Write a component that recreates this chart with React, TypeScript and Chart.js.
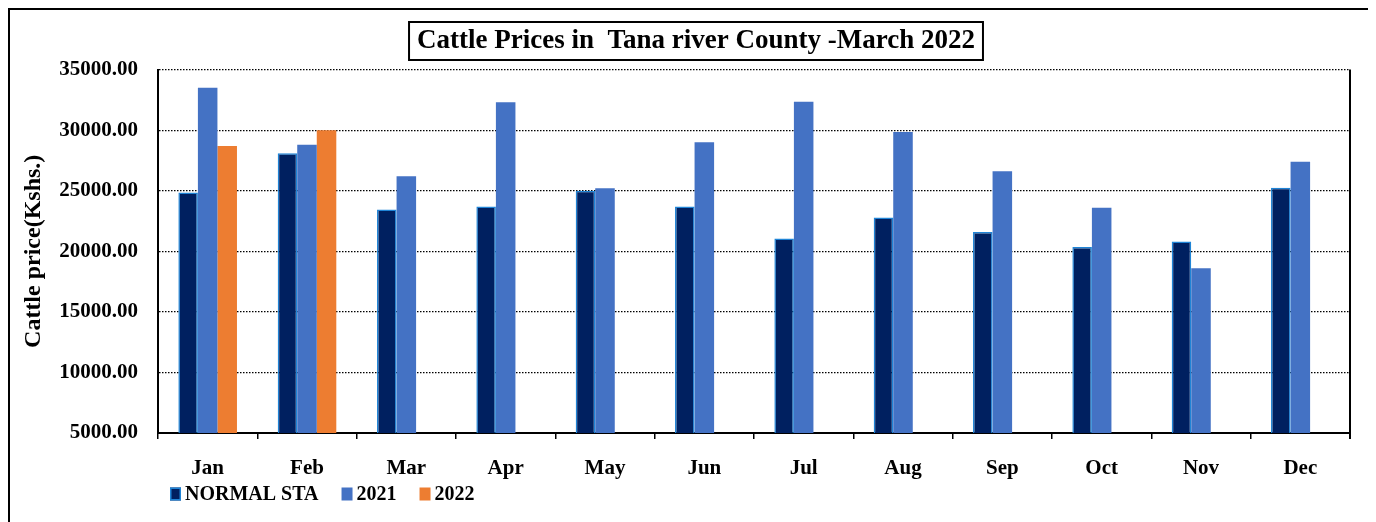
import React, { useEffect, useRef } from "react";
import { Chart, registerables } from "chart.js";

Chart.register(...registerables);

const months = ["Jan", "Feb", "Mar", "Apr", "May", "Jun", "Jul", "Aug", "Sep", "Oct", "Nov", "Dec"];
const normalSTA = [24850, 28100, 23450, 23700, 25000, 23700, 21050, 22800, 21600, 20350, 20800, 25250];
const prices2021 = [33500, 28800, 26200, 32300, 25200, 29000, 32350, 29850, 26600, 23600, 18600, 27400];
const prices2022 = [28700, 30000, null, null, null, null, null, null, null, null, null, null];
const yTicks = [5000, 10000, 15000, 20000, 25000, 30000, 35000];

const titleText = "Cattle Prices in  Tana river County -March 2022";
const FONT = "'Liberation Serif', 'Times New Roman', serif";
const TITLE_SIZE = 27;
const LEGEND_SIZE = 20;

const framePlugin = {
  id: "framePlugin",
  afterDraw(chart: any) {
    const { ctx, chartArea } = chart;
    ctx.save();
    // right border of plot
    ctx.strokeStyle = "#000";
    ctx.lineWidth = 2;
    ctx.beginPath();
    ctx.moveTo(chartArea.right, chartArea.top);
    ctx.lineTo(chartArea.right, chartArea.bottom + 6);
    ctx.stroke();
    // title box
    const tb = chart.titleBlock;
    if (tb) {
      ctx.font = `bold ${TITLE_SIZE}px ${FONT}`;
      const w = ctx.measureText(titleText).width;
      const cx = (tb.left + tb.right) / 2;
      const cy = 31;
      ctx.lineWidth = 2;
      ctx.strokeRect(cx - w / 2 - 8, cy - 19, w + 16, 38);
    }
    // legend
    ctx.font = `bold ${LEGEND_SIZE}px ${FONT}`;
    ctx.textBaseline = "middle";
    ctx.textAlign = "left";
    let x = chartArea.left + 12;
    const y = chartArea.bottom + 61;
    chart.data.datasets.forEach((ds: any) => {
      ctx.fillStyle = ds.backgroundColor;
      ctx.fillRect(x, y - 6.5, 11, 13);
      if (ds.borderWidth) {
        ctx.strokeStyle = ds.borderColor;
        ctx.lineWidth = ds.borderWidth;
        ctx.strokeRect(x + 0.75, y - 5.75, 9.5, 11.5);
      }
      ctx.fillStyle = "#000";
      ctx.fillText(ds.label, x + 15, y + 1);
      x += 15 + ctx.measureText(ds.label).width + 23;
    });
    ctx.restore();
  },
};

export default function App() {
  const ref = useRef<HTMLCanvasElement | null>(null);
  useEffect(() => {
    if (!ref.current) return;
    const chart = new Chart(ref.current, {
      type: "bar",
      data: {
        labels: months,
        datasets: [
          {
            label: "NORMAL STA",
            data: normalSTA,
            backgroundColor: "#002060",
            borderColor: "#1f84d6",
            borderWidth: 1.5,
            categoryPercentage: 0.59,
            barPercentage: 1,
          },
          {
            label: "2021",
            data: prices2021,
            backgroundColor: "#4472C4",
            borderWidth: 0,
            categoryPercentage: 0.59,
            barPercentage: 1,
          },
          {
            label: "2022",
            data: prices2022,
            backgroundColor: "#ED7D31",
            borderWidth: 0,
            categoryPercentage: 0.59,
            barPercentage: 1,
          },
        ],
      },
      options: {
        responsive: false,
        animation: false,
        layout: { padding: { left: 6, right: 0, top: 0, bottom: 41 } },
        plugins: {
          title: {
            display: true,
            text: titleText,
            color: "#000",
            font: { family: FONT, size: TITLE_SIZE, weight: "bold" },
            padding: { top: 14.8, bottom: 12.4 },
          },
          legend: { display: false },
          tooltip: { enabled: false },
        },
        scales: {
          x: {
            afterFit: (s: any) => {
              s.height = 48;
            },
            grid: {
              offset: true,
              drawOnChartArea: false,
              drawTicks: true,
              tickLength: 6,
              color: "#000",
              lineWidth: 1.5,
            },
            border: { display: true, color: "#000", width: 2 },
            ticks: {
              color: "#000",
              font: { family: FONT, size: 21, weight: "bold" },
              padding: 17,
              maxRotation: 0,
            },
          },
          y: {
            min: 5000,
            max: 35000,
            afterFit: (s: any) => {
              s.width = 142;
            },
            afterBuildTicks: (s: any) => {
              s.ticks = yTicks.map((v) => ({ value: v }));
            },
            grid: {
              drawTicks: false,
              color: "#000",
              lineWidth: 1.2,
            },
            border: { display: true, color: "#000", width: 2, dash: [1.5, 1.5] },
            ticks: {
              color: "#000",
              font: { family: FONT, size: 21, weight: "bold" },
              padding: 20,
              callback: (v: any) => Number(v).toFixed(2),
            },
            title: {
              display: true,
              text: "Cattle price(Kshs.)",
              color: "#000",
              font: { family: FONT, size: 24, weight: "bold" },
              padding: { top: 3, bottom: 0 },
            },
          },
          yRight: {
            position: "right",
            min: 5000,
            max: 35000,
            afterFit: (s: any) => {
              s.width = 26;
            },
            grid: { display: false, drawTicks: false },
            border: { display: false },
            ticks: { display: false },
          },
        },
      },
      plugins: [framePlugin],
    });
    return () => chart.destroy();
  }, []);

  return (
    <div
      style={{
        width: 1368,
        height: 514,
        borderTop: "2px solid #000",
        borderLeft: "2px solid #000",
        boxSizing: "border-box",
        background: "#fff",
      }}
    >
      <canvas ref={ref} width={1366} height={512} style={{ display: "block", width: 1366, height: 512 }} />
    </div>
  );
}
